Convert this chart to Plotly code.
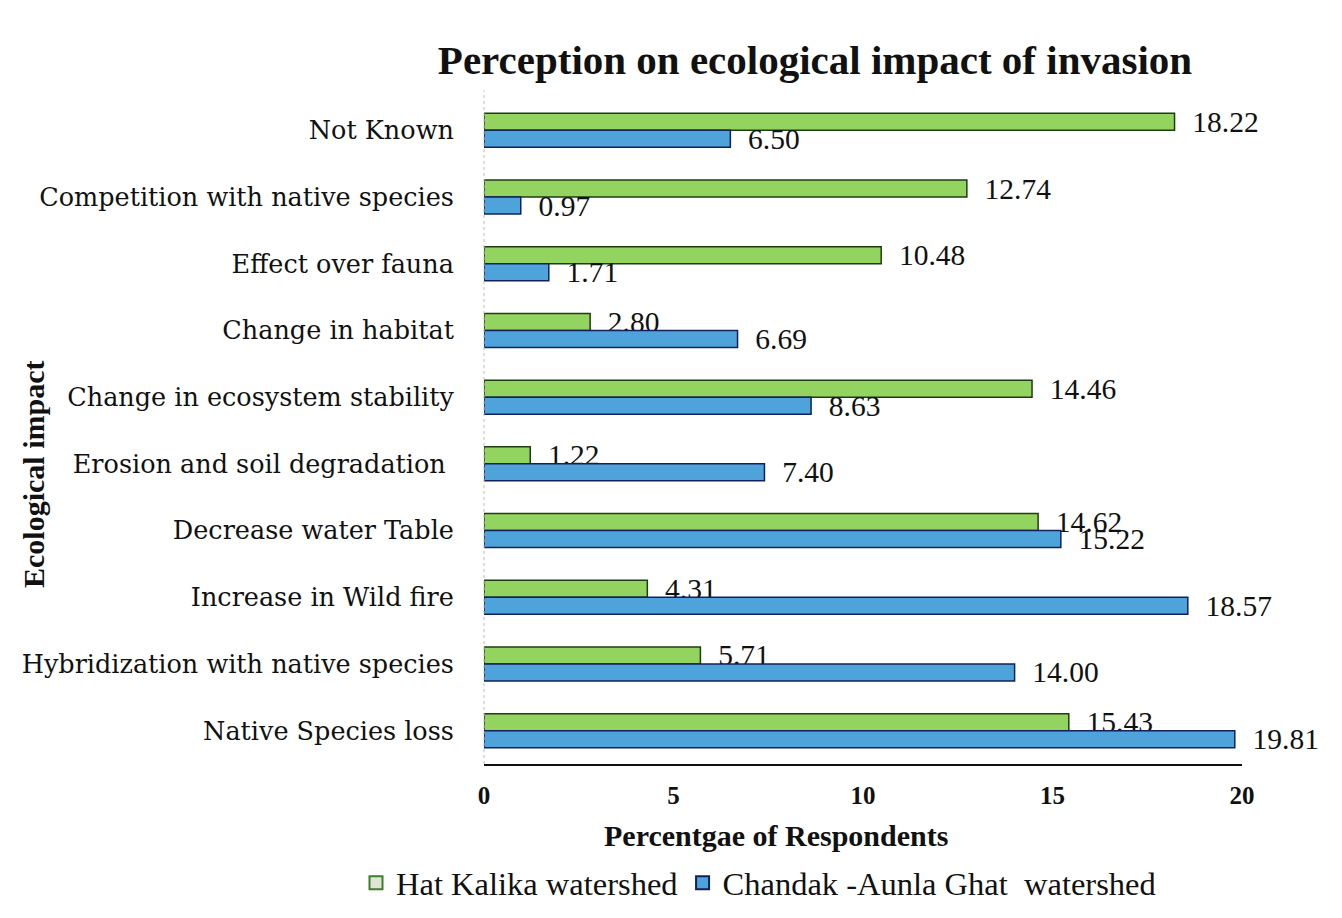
import plotly.graph_objects as go

categories = [
    "Not Known",
    "Competition with native species",
    "Effect over fauna",
    "Change in habitat",
    "Change in ecosystem stability",
    "Erosion and soil degradation ",
    "Decrease water Table",
    "Increase in Wild fire",
    "Hybridization with native species",
    "Native Species loss",
]
hat_kalika = [18.22, 12.74, 10.48, 2.80, 14.46, 1.22, 14.62, 4.31, 5.71, 15.43]
chandak = [6.50, 0.97, 1.71, 6.69, 8.63, 7.40, 15.22, 18.57, 14.00, 19.81]
x_ticks = [0, 5, 10, 15, 20]
series_names = ["Hat Kalika watershed", "Chandak -Aunla Ghat  watershed"]

SERIF = "Liberation Serif"
LABEL_FONT = "DejaVu Serif"

W, H = 1334, 910
L, R, T, B = 476, 100, 89, 154
PW, PH = W - L - R, H - T - B


def px_x(page_x):
    return (page_x - 8 - L) / PW


def px_y(page_y):
    return (H - B - (page_y - 8)) / PH


fig = go.Figure()
fig.add_trace(go.Bar(
    y=categories, x=hat_kalika, orientation="h", name=series_names[0], showlegend=False,
    marker=dict(color="#93D35F", line=dict(color="#1f3d12", width=1.5)),
    texttemplate="  %{x:.2f}", textposition="outside", constraintext="none",
    cliponaxis=False, textfont=dict(family=SERIF, size=29.5, color="#111"),
))
fig.add_trace(go.Bar(
    y=categories, x=chandak, orientation="h", name=series_names[1], showlegend=False,
    marker=dict(color="#4DA3DA", line=dict(color="#14205e", width=1.5)),
    texttemplate="  %{x:.2f}", textposition="outside", constraintext="none",
    cliponaxis=False, textfont=dict(family=SERIF, size=29.5, color="#111"),
))
# legend-only markers
fig.add_trace(go.Scatter(
    x=[None], y=[None], mode="markers", name=series_names[0],
    marker=dict(symbol="square", size=13, color="#dfe6d6", line=dict(color="#3f7f2a", width=2)),
))
fig.add_trace(go.Scatter(
    x=[None], y=[None], mode="markers", name=series_names[1],
    marker=dict(symbol="square", size=13, color="#4DA3DA", line=dict(color="#14205e", width=2)),
))

fig.update_layout(
    width=W, height=H,
    margin=dict(l=L, r=R, t=T, b=B, autoexpand=False),
    paper_bgcolor="white", plot_bgcolor="white",
    barmode="group", bargap=0.49, bargroupgap=0,
    title=dict(text="<b>Perception on ecological impact of invasion</b>",
               font=dict(family=SERIF, size=41, color="#111"),
               xref="container", x=(815 - 8) / W, xanchor="center",
               yref="container", y=1 - (60 - 8) / H, yanchor="middle"),
    showlegend=True,
    legend=dict(orientation="h", xref="paper", x=px_x(356), xanchor="left",
                yref="paper", y=px_y(883), yanchor="middle",
                font=dict(family=SERIF, size=32.5, color="#111"),
                itemwidth=30, traceorder="normal"),
    xaxis=dict(range=[0, 20], tickvals=x_ticks, ticktext=[f"<b>{t}</b>" for t in x_ticks],
               showgrid=False, zeroline=False, showline=True, linecolor="#111", linewidth=2,
               ticks="outside", ticklen=8, tickcolor="rgba(0,0,0,0)",
               tickfont=dict(family=SERIF, size=25, color="#111")),
    yaxis=dict(autorange="reversed", showgrid=False, zeroline=False, showline=False,
               ticks="outside", ticklen=24, tickcolor="rgba(0,0,0,0)",
               tickfont=dict(family=LABEL_FONT, size=25.5, color="#111")),
    annotations=[
        dict(text="<b>Percentgae of Respondents</b>", xref="paper", yref="paper",
             x=px_x(776), y=px_y(835), xanchor="center", yanchor="middle",
             showarrow=False, font=dict(family=SERIF, size=30, color="#111")),
        dict(text="<b>Ecological impact</b>", xref="paper", yref="paper",
             x=px_x(33), y=px_y(475), xanchor="center", yanchor="middle",
             textangle=-90, showarrow=False, font=dict(family=SERIF, size=30, color="#111")),
    ],
    shapes=[dict(type="line", xref="paper", yref="paper", x0=0, x1=0, y0=0, y1=1.01,
                 line=dict(color="#bbbbbb", width=1, dash="dot"))],
)

fig.write_html("out.html")
